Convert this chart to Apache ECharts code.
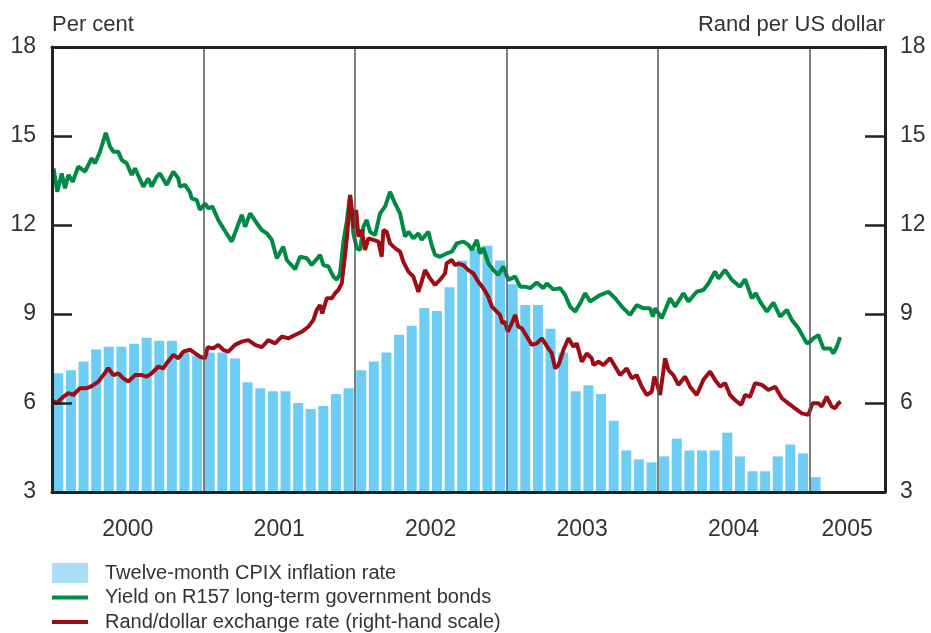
<!DOCTYPE html>
<html>
<head>
<meta charset="utf-8">
<script src="https://cdn.jsdelivr.net/npm/echarts@6/dist/echarts.min.js"></script>
<style>
html, body { margin: 0; padding: 0; background: #fff; }
#chart { width: 931px; height: 633px; }
</style>
</head>
<body>
<div id="chart"></div>
<script>
// monthly categories Jan 2000 - Jun 2005
var months = [];
for (var y = 2000; y <= 2005; y++) {
	for (var m = 1; m <= 12; m++) {
		if (y == 2005 && m > 6) break;
		months.push(y + '-' + m);
	}
}

// twelve-month CPIX inflation, Jan 2000 - Jan 2005
var cpix = [
	7.0, 7.1, 7.4, 7.8, 7.9, 7.9, 8.0, 8.2, 8.1, 8.1, 7.7, 7.6,
	7.7, 7.7, 7.5, 6.7, 6.5, 6.4, 6.4, 6.0, 5.8, 5.9, 6.3, 6.5,
	7.1, 7.4, 7.7, 8.3, 8.6, 9.2, 9.1, 9.9, 10.8, 11.2, 11.3, 10.8,
	10.0, 9.3, 9.3, 8.5, 7.7, 6.4, 6.6, 6.3, 5.4, 4.4, 4.1, 4.0,
	4.2, 4.8, 4.4, 4.4, 4.4, 5.0, 4.2, 3.7, 3.7, 4.2, 4.6, 4.3,
	3.5
];

// R157 yield, [decimal year, per cent]
var bondYield = [
	[2000.01, 13.91], [2000.035, 13.12], [2000.064, 13.74], [2000.086, 13.24], [2000.108, 13.69],
	[2000.137, 13.46], [2000.174, 13.97], [2000.218, 13.80], [2000.262, 14.25], [2000.284, 14.08],
	[2000.317, 14.47], [2000.355, 15.11], [2000.383, 14.64], [2000.405, 14.47], [2000.438, 14.47],
	[2000.460, 14.19], [2000.493, 14.08], [2000.526, 13.69], [2000.548, 13.91], [2000.603, 13.29],
	[2000.636, 13.57], [2000.658, 13.29], [2000.691, 13.63], [2000.713, 13.74], [2000.757, 13.35],
	[2000.801, 13.80], [2000.834, 13.57], [2000.845, 13.29], [2000.878, 13.35], [2000.911, 13.10],
	[2000.922, 12.90], [2000.956, 12.84], [2000.977, 12.51], [2001.010, 12.73], [2001.032, 12.56],
	[2001.059, 12.62], [2001.098, 12.17], [2001.131, 11.89], [2001.187, 11.44], [2001.220, 11.89],
	[2001.253, 12.34], [2001.275, 11.94], [2001.308, 12.39], [2001.352, 12.06], [2001.385, 11.83],
	[2001.418, 11.72], [2001.451, 11.50], [2001.484, 10.88], [2001.527, 11.27], [2001.550, 10.82],
	[2001.605, 10.51], [2001.638, 10.93], [2001.682, 10.88], [2001.715, 10.65], [2001.770, 10.99],
	[2001.792, 10.65], [2001.825, 10.60], [2001.858, 10.26], [2001.880, 10.15], [2001.902, 10.37],
	[2001.924, 11.44], [2001.946, 12.11], [2001.968, 13.01], [2001.990, 11.72], [2002.012, 11.22],
	[2002.034, 11.16], [2002.056, 11.94], [2002.078, 12.17], [2002.100, 11.77], [2002.133, 11.66],
	[2002.166, 12.39], [2002.199, 12.62], [2002.232, 13.12], [2002.243, 13.18], [2002.265, 12.73],
	[2002.298, 12.39], [2002.331, 11.61], [2002.353, 11.77], [2002.386, 11.55], [2002.419, 11.72],
	[2002.441, 11.50], [2002.485, 11.77], [2002.507, 11.33], [2002.529, 10.99], [2002.562, 10.93],
	[2002.606, 11.04], [2002.640, 11.10], [2002.673, 11.38], [2002.716, 11.44], [2002.749, 11.33],
	[2002.772, 11.16], [2002.805, 11.50], [2002.826, 11.04], [2002.848, 11.22], [2002.881, 10.71],
	[2002.914, 10.48], [2002.947, 10.32], [2002.980, 10.60], [2003.013, 10.15], [2003.058, 10.26],
	[2003.091, 9.92], [2003.124, 9.92], [2003.157, 9.87], [2003.201, 10.06], [2003.244, 9.87],
	[2003.267, 10.03], [2003.310, 9.83], [2003.355, 9.87], [2003.388, 9.64], [2003.421, 9.25],
	[2003.454, 9.08], [2003.487, 9.36], [2003.520, 9.70], [2003.553, 9.42], [2003.586, 9.53],
	[2003.619, 9.64], [2003.674, 9.75], [2003.718, 9.53], [2003.762, 9.25], [2003.817, 8.97],
	[2003.861, 9.30], [2003.905, 9.19], [2003.949, 9.19], [2003.967, 8.91], [2003.982, 9.19],
	[2004.026, 8.86], [2004.081, 9.53], [2004.114, 9.25], [2004.169, 9.70], [2004.202, 9.42],
	[2004.257, 9.75], [2004.301, 9.81], [2004.334, 10.03], [2004.378, 10.43], [2004.400, 10.20],
	[2004.444, 10.48], [2004.489, 10.15], [2004.543, 9.92], [2004.576, 10.17], [2004.621, 9.53],
	[2004.647, 9.70], [2004.675, 9.42], [2004.720, 9.08], [2004.763, 9.38], [2004.808, 8.91],
	[2004.852, 9.14], [2004.885, 8.80], [2004.928, 8.52], [2004.984, 8.01], [2005.006, 8.07],
	[2005.027, 8.18], [2005.060, 8.29], [2005.093, 7.84], [2005.138, 7.84], [2005.159, 7.67],
	[2005.182, 7.90], [2005.204, 8.22]
];

// rand per US dollar, [decimal year, rand]
var randDollar = [
	[2000.0, 6.10], [2000.031, 5.99], [2000.075, 6.21], [2000.108, 6.33], [2000.141, 6.27],
	[2000.185, 6.50], [2000.229, 6.50], [2000.262, 6.57], [2000.306, 6.72], [2000.339, 6.94],
	[2000.372, 7.17], [2000.405, 6.94], [2000.438, 7.00], [2000.471, 6.83], [2000.504, 6.72],
	[2000.548, 6.94], [2000.592, 6.94], [2000.625, 6.89], [2000.658, 7.00], [2000.702, 7.23],
	[2000.735, 7.17], [2000.757, 7.34], [2000.801, 7.62], [2000.834, 7.51], [2000.867, 7.73],
	[2000.911, 7.80], [2000.944, 7.68], [2000.977, 7.56], [2001.010, 7.51], [2001.028, 7.88],
	[2001.065, 7.84], [2001.098, 7.96], [2001.131, 7.79], [2001.164, 7.73], [2001.208, 7.96],
	[2001.253, 8.07], [2001.296, 8.12], [2001.341, 7.96], [2001.385, 7.88], [2001.428, 8.12],
	[2001.473, 8.01], [2001.517, 8.24], [2001.560, 8.18], [2001.605, 8.29], [2001.649, 8.40],
	[2001.693, 8.57], [2001.726, 8.80], [2001.748, 9.14], [2001.770, 9.30], [2001.785, 9.02],
	[2001.814, 9.53], [2001.847, 9.53], [2001.869, 9.70], [2001.891, 9.81], [2001.913, 10.03],
	[2001.935, 10.99], [2001.950, 11.72], [2001.968, 13.01], [2001.983, 12.39], [2001.994, 11.89],
	[2002.008, 12.51], [2002.023, 11.61], [2002.045, 11.83], [2002.067, 11.16], [2002.089, 11.55],
	[2002.122, 11.50], [2002.155, 11.44], [2002.177, 10.93], [2002.188, 11.83], [2002.210, 11.77],
	[2002.232, 11.38], [2002.265, 11.22], [2002.298, 11.10], [2002.320, 10.76], [2002.353, 10.43],
	[2002.386, 10.26], [2002.419, 9.75], [2002.441, 10.09], [2002.463, 10.48], [2002.496, 10.20],
	[2002.529, 9.98], [2002.562, 10.15], [2002.595, 10.37], [2002.606, 10.71], [2002.640, 10.82],
	[2002.661, 10.65], [2002.683, 10.70], [2002.716, 10.65], [2002.749, 10.48], [2002.782, 10.37],
	[2002.815, 10.09], [2002.848, 9.87], [2002.881, 9.58], [2002.904, 9.25], [2002.937, 9.08],
	[2002.958, 8.97], [2002.974, 8.69], [2002.992, 8.74], [2003.009, 8.40], [2003.036, 8.69],
	[2003.058, 8.97], [2003.079, 8.57], [2003.102, 8.52], [2003.135, 8.24], [2003.168, 7.96],
	[2003.201, 8.01], [2003.234, 8.18], [2003.256, 8.01], [2003.277, 7.84], [2003.300, 7.67],
	[2003.322, 7.17], [2003.344, 7.28], [2003.377, 7.79], [2003.410, 8.18], [2003.443, 7.90],
	[2003.465, 8.01], [2003.498, 7.39], [2003.531, 7.67], [2003.564, 7.51], [2003.575, 7.28],
	[2003.608, 7.39], [2003.641, 7.28], [2003.685, 7.51], [2003.718, 7.23], [2003.751, 6.94],
	[2003.795, 7.17], [2003.828, 6.83], [2003.861, 6.94], [2003.894, 6.55], [2003.927, 6.27],
	[2003.960, 6.38], [2003.977, 6.89], [2003.993, 6.67], [2004.015, 6.27], [2004.048, 7.51],
	[2004.070, 7.11], [2004.103, 6.94], [2004.136, 6.61], [2004.180, 6.89], [2004.213, 6.55],
	[2004.257, 6.27], [2004.301, 6.78], [2004.345, 7.06], [2004.378, 6.78], [2004.411, 6.55],
	[2004.444, 6.67], [2004.477, 6.27], [2004.510, 6.10], [2004.550, 5.93], [2004.576, 6.27],
	[2004.609, 6.21], [2004.642, 6.67], [2004.687, 6.61], [2004.730, 6.44], [2004.775, 6.55],
	[2004.819, 6.16], [2004.862, 5.99], [2004.906, 5.82], [2004.951, 5.65], [2004.994, 5.60],
	[2005.021, 5.99], [2005.060, 5.99], [2005.082, 5.88], [2005.115, 6.21], [2005.148, 5.88],
	[2005.170, 5.82], [2005.192, 5.99], [2005.208, 6.04]
];

var font = "'Liberation Sans', Arial, sans-serif";
var textColor = '#333';
var frameColor = '#222';
var lineIcon = 'path://M0,0 L36,0 L36,4 L0,4 Z';

function yearLabel(v) {
	var f = v - Math.floor(v);
	if (f === 0.5 && v < 2005) return String(Math.floor(v));
	if (v === 2005.25) return '2005';
	return '';
}

var option = {
	animation: false,
	backgroundColor: '#fff',
	textStyle: { fontFamily: font },
	grid: { left: 52, right: 46, top: 47, bottom: 141, containLabel: false, outerBoundsMode: 'none' },
	legend: {
		orient: 'vertical',
		left: 52,
		top: 563,
		height: 100,
		padding: 0,
		itemWidth: 36,
		itemHeight: 20,
		itemGap: 4.5,
		textStyle: { fontSize: 20, color: textColor, fontFamily: font, padding: [0, 0, 0, 12] },
		data: [
			{ name: 'Twelve-month CPIX inflation rate', icon: 'rect', itemStyle: { color: '#a9def7' } },
			{ name: 'Yield on R157 long-term government bonds', icon: lineIcon },
			{ name: 'Rand/dollar exchange rate (right-hand scale)', icon: lineIcon }
		]
	},
	xAxis: [{
		type: 'category',
		position: 'bottom',
		data: months,
		boundaryGap: true,
		z: 5,
		axisLine: { show: true, lineStyle: { color: frameColor, width: 3 } },
		axisTick: { show: false },
		axisLabel: { show: false },
		splitLine: { show: false }
	}, {
		type: 'value',
		position: 'bottom',
		min: 2000,
		max: 2005.5,
		interval: 0.25,
		axisLine: { show: false },
		axisTick: { show: false },
		splitLine: { show: false },
		axisLabel: {
			margin: 26,
			fontSize: 23,
			color: textColor,
			fontFamily: font,
			formatter: yearLabel
		}
	}, {
		type: 'value',
		position: 'top',
		min: 2000,
		max: 2005.5,
		interval: 1,
		z: 5,
		axisLine: { show: true, lineStyle: { color: frameColor, width: 3 } },
		axisTick: { show: false },
		axisLabel: { show: false },
		splitLine: { show: true, lineStyle: { color: '#555', width: 1.5 } }
	}],
	yAxis: [{
		type: 'value',
		min: 3,
		max: 18,
		interval: 3,
		z: 5,
		name: 'Per cent',
		nameLocation: 'end',
		nameGap: 22,
		nameTextStyle: { align: 'left', verticalAlign: 'middle', fontSize: 22, color: textColor, fontFamily: font },
		axisLine: { show: true, lineStyle: { color: frameColor, width: 3 } },
		axisTick: { show: true, inside: true, length: 20, lineStyle: { color: frameColor, width: 2.5 } },
		axisLabel: { margin: 16, fontSize: 23, color: textColor, fontFamily: font },
		splitLine: { show: false }
	}, {
		type: 'value',
		position: 'right',
		min: 3,
		max: 18,
		interval: 3,
		z: 5,
		name: 'Rand per US dollar',
		nameLocation: 'end',
		nameGap: 22,
		nameTextStyle: { align: 'right', verticalAlign: 'middle', fontSize: 22, color: textColor, fontFamily: font },
		axisLine: { show: true, lineStyle: { color: frameColor, width: 3 } },
		axisTick: { show: true, inside: true, length: 20, lineStyle: { color: frameColor, width: 2.5 } },
		axisLabel: { margin: 15, fontSize: 23, color: textColor, fontFamily: font },
		splitLine: { show: false }
	}],
	series: [{
		name: 'Twelve-month CPIX inflation rate',
		type: 'bar',
		xAxisIndex: 0,
		yAxisIndex: 0,
		barWidth: 10,
		itemStyle: { color: '#6dcdf5' },
		data: cpix
	}, {
		name: 'Yield on R157 long-term government bonds',
		type: 'line',
		xAxisIndex: 1,
		yAxisIndex: 0,
		symbol: 'none',
		lineStyle: { color: '#008a44', width: 4 },
		itemStyle: { color: '#008a44' },
		data: bondYield
	}, {
		name: 'Rand/dollar exchange rate (right-hand scale)',
		type: 'line',
		xAxisIndex: 1,
		yAxisIndex: 1,
		symbol: 'none',
		lineStyle: { color: '#9e0d15', width: 4 },
		itemStyle: { color: '#9e0d15' },
		data: randDollar
	}]
};

echarts.init(document.getElementById('chart')).setOption(option);
</script>
</body>
</html>
